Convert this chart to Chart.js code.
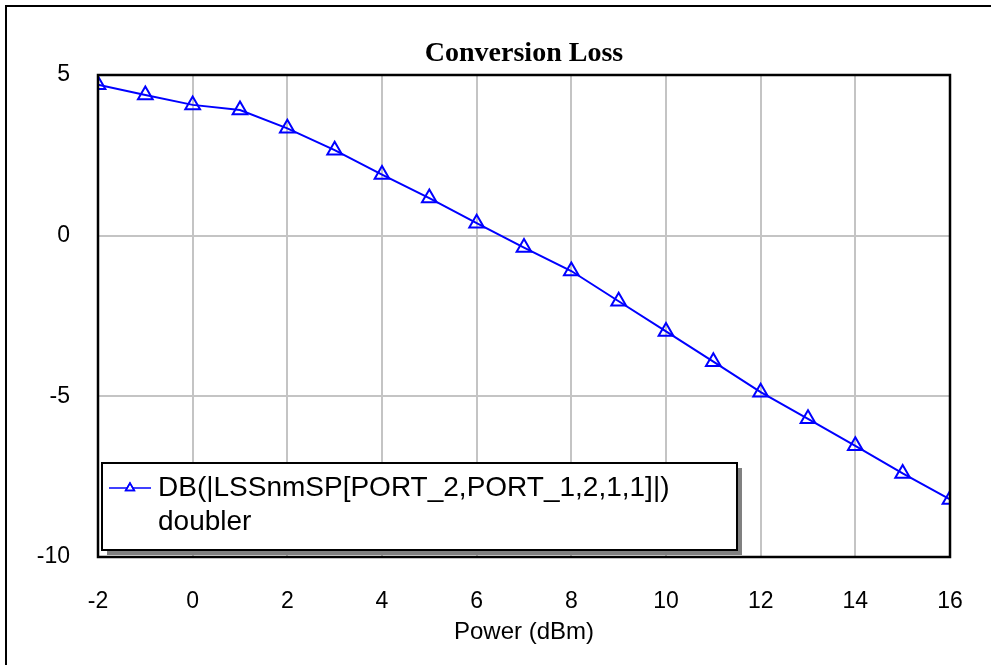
<!DOCTYPE html>
<html>
<head>
<meta charset="utf-8">
<script src="https://cdn.jsdelivr.net/npm/chart.js@4.4.1/dist/chart.umd.min.js"></script>
<style>
  html, body { margin: 0; padding: 0; background: #fff; }
  #wrap { width: 991px; height: 665px; position: relative; }
</style>
</head>
<body>
<div id="wrap"><canvas id="chart" width="991" height="665"></canvas></div>
<script>
// data
const powerDbm = [-2, -1, 0, 1, 2, 3, 4, 5, 6, 7, 8, 9, 10, 11, 12, 13, 14, 15, 16];
const convLoss = [4.70, 4.38, 4.07, 3.91, 3.34, 2.66, 1.90, 1.17, 0.39, -0.37, -1.10,
                  -2.04, -2.98, -3.92, -4.87, -5.70, -6.54, -7.40, -8.21];
const xTicks = [-2, 0, 2, 4, 6, 8, 10, 12, 14, 16];
const yTicks = [-10, -5, 0, 5];
const chartTitle = 'Conversion Loss';
const seriesName = 'DB(|LSSnmSP[PORT_2,PORT_1,2,1,1]|)';
const seriesSource = 'doubler';

const BLUE = '#0000ff';
const GRID = '#c4c4c4';

// outer frame, title over the plot, plot border and the boxed legend
const framePlugin = {
  id: 'frame',
  beforeDraw(chart) {
    const { ctx, chartArea: a } = chart;
    ctx.save();
    ctx.fillStyle = '#fff';
    ctx.fillRect(0, 0, chart.width, chart.height);
    ctx.strokeStyle = '#000';
    ctx.lineWidth = 2;
    ctx.strokeRect(6, 6, chart.width + 20, chart.height + 20);

    ctx.fillStyle = '#000';
    ctx.font = 'bold 28px "Liberation Serif", "Times New Roman", serif';
    ctx.textAlign = 'center';
    ctx.textBaseline = 'middle';
    ctx.fillText(chartTitle, (a.left + a.right) / 2, 54);
    ctx.restore();
  },
  afterDatasetsDraw(chart) {
    const { ctx, chartArea: a } = chart;
    ctx.save();
    ctx.strokeStyle = '#000';
    ctx.lineWidth = 2.5;
    ctx.strokeRect(a.left, a.top, a.right - a.left, a.bottom - a.top);
    ctx.restore();
  },
  afterDraw(chart) {
    const { ctx, chartArea: a } = chart;
    const ds = chart.data.datasets[0];
    const bx = a.left + 4, by = 463, bw = 635, bh = 87;
    ctx.save();
    // shadow
    ctx.fillStyle = '#808080';
    ctx.fillRect(bx + 5, by + 5, bw, Math.min(bh, a.bottom - by - 6));
    ctx.fillStyle = '#fff';
    ctx.fillRect(bx, by, bw, bh);
    ctx.strokeStyle = '#000';
    ctx.lineWidth = 2;
    ctx.strokeRect(bx, by, bw, bh);

    // marker: line with a small triangle
    const my = by + 25;
    ctx.strokeStyle = BLUE;
    ctx.lineWidth = 1.5;
    ctx.beginPath();
    ctx.moveTo(bx + 7, my);
    ctx.lineTo(bx + 49, my);
    ctx.stroke();
    Chart.helpers.drawPoint(ctx, { pointStyle: 'triangle', radius: 5, borderWidth: 1.5 }, bx + 28, my);
    ctx.stroke();

    ctx.fillStyle = '#000';
    ctx.font = '28px "Liberation Sans", Arial, sans-serif';
    ctx.textBaseline = 'middle';
    ctx.textAlign = 'left';
    ctx.fillText(ds.label, bx + 56, my);
    ctx.fillText(seriesSource, bx + 56, my + 34);
    ctx.restore();
  }
};

new Chart(document.getElementById('chart'), {
  type: 'line',
  data: {
    datasets: [{
      label: seriesName,
      data: powerDbm.map((x, i) => ({ x, y: convLoss[i] })),
      borderColor: BLUE,
      borderWidth: 2,
      backgroundColor: 'rgba(0,0,0,0)',
      pointStyle: 'triangle',
      pointRadius: 8.5,
      pointBorderWidth: 2,
      pointBorderColor: BLUE,
      pointBackgroundColor: 'rgba(0,0,0,0)',
      tension: 0,
      clip: 0
    }]
  },
  options: {
    responsive: false,
    animation: false,
    devicePixelRatio: 1,
    layout: { padding: { left: 0, right: 41, top: 75, bottom: 0 } },
    plugins: {
      legend: { display: false },
      tooltip: { enabled: false },
      title: { display: false }
    },
    scales: {
      x: {
        type: 'linear',
        min: -2, max: 16,
        afterBuildTicks: s => { s.ticks = xTicks.map(v => ({ value: v })); },
        afterFit: s => { s.height = 108; s.paddingLeft = 0; s.paddingRight = 0; },
        grid: { color: GRID, lineWidth: 2, drawTicks: false },
        border: { display: false },
        ticks: {
          color: '#000', padding: 31, maxRotation: 0,
          font: { family: '"Liberation Sans", Arial, sans-serif', size: 23 }
        },
        title: {
          display: true, text: 'Power (dBm)', color: '#000',
          font: { family: '"Liberation Sans", Arial, sans-serif', size: 24 },
          padding: { top: 0, bottom: 18 }
        }
      },
      y: {
        type: 'linear',
        min: -10, max: 5,
        afterBuildTicks: s => { s.ticks = yTicks.map(v => ({ value: v })); },
        afterFit: s => { s.width = 98; },
        grid: { color: GRID, lineWidth: 2, drawTicks: false },
        border: { display: false },
        ticks: {
          color: '#000', padding: 28,
          font: { family: '"Liberation Sans", Arial, sans-serif', size: 23 }
        }
      }
    }
  },
  plugins: [framePlugin]
});
</script>
</body>
</html>
